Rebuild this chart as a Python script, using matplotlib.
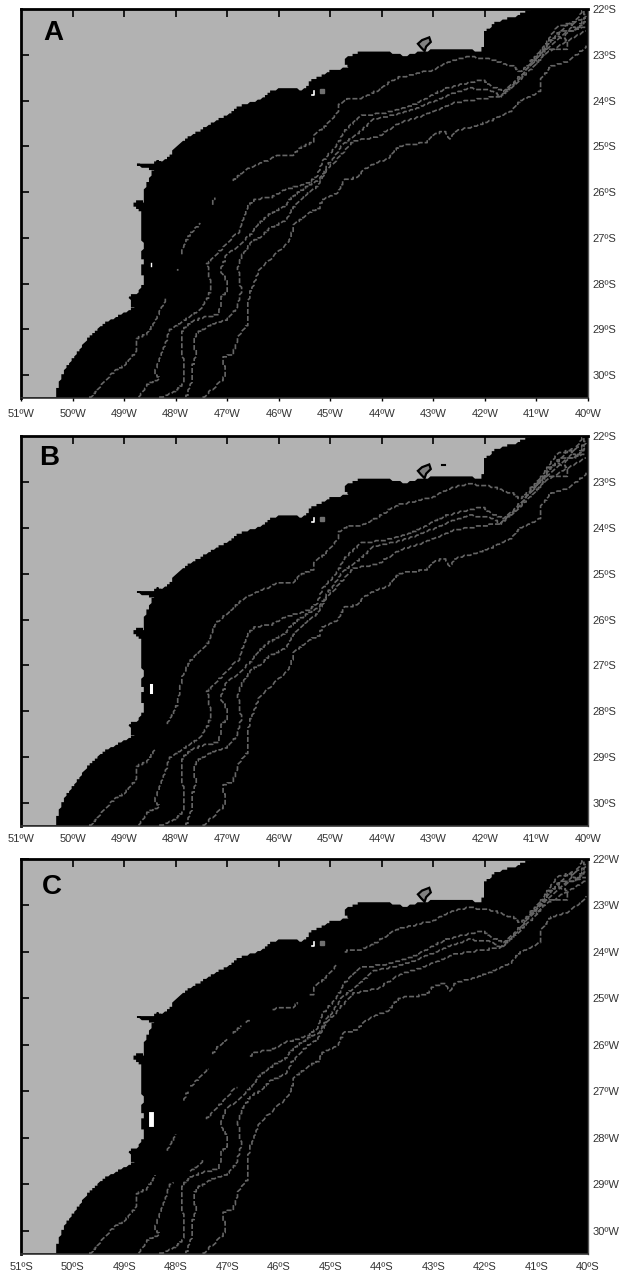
import numpy as np
import matplotlib
matplotlib.use("Agg")
import matplotlib.pyplot as plt

plt.rcParams['font.family'] = ['Liberation Sans', 'DejaVu Sans']

# degrees west / degrees south
coast_lon = [50.31, 50.25, 50.08, 49.95, 49.70, 49.37, 49.02, 48.77, 48.86, 48.88, 48.73, 48.60, 48.65, 48.58, 48.65,
             48.61, 48.66, 48.63, 48.79, 48.73, 48.59, 48.59, 48.47, 48.41, 48.73, 48.41, 48.34, 48.31, 48.05, 48.02,
             47.73, 47.41, 47.02, 46.76, 46.31, 46.18, 45.92, 45.60, 45.44, 45.41, 45.21, 44.95, 44.60, 44.73, 44.44,
             44.05, 43.53, 43.20, 42.68, 42.03, 42.00, 41.77, 41.38, 41.09, 40.93]
coast_lat = [30.50, 30.17, 29.80, 29.62, 29.22, 28.89, 28.68, 28.53, 28.46, 28.28, 28.24, 27.99, 27.62, 27.50, 27.40,
             27.19, 26.82, 26.46, 26.28, 26.20, 26.24, 25.95, 25.66, 25.51, 25.40, 25.40, 25.31, 25.40, 25.19, 25.05,
             24.82, 24.60, 24.35, 24.15, 23.97, 23.84, 23.73, 23.78, 23.77, 23.62, 23.51, 23.35, 23.30, 23.11, 22.97,
             22.93, 23.04, 22.93, 22.91, 22.93, 22.53, 22.31, 22.17, 22.02, 22.00]

# the small headland near 43W
head_lon = [43.30, 43.22, 43.08, 43.05, 43.14, 43.17, 43.24]
head_lat = [22.76, 22.68, 22.62, 22.72, 22.82, 22.92, 22.84]

c1_lon = [49.66, 49.47, 49.18, 48.99, 48.76, 48.76, 48.57, 48.37, 48.18, 47.99, 47.95, 47.86, 47.70, 47.37, 47.25,
          46.89, 46.63, 46.05, 45.73, 45.60, 45.41, 45.31, 45.31, 45.08, 44.86, 44.82, 44.66, 44.40, 44.11, 43.72,
          43.53, 43.01, 42.68, 42.32, 41.84, 41.45, 41.32, 41.19, 41.00, 40.80, 40.60, 40.28, 40.05]
c1_lat = [30.50, 30.26, 29.90, 29.79, 29.47, 29.21, 29.10, 28.78, 28.30, 27.94, 27.69, 27.21, 26.89, 26.52, 26.12,
          25.76, 25.51, 25.22, 25.22, 25.04, 24.94, 24.89, 24.75, 24.53, 24.27, 24.09, 23.95, 23.95, 23.80, 23.51,
          23.47, 23.33, 23.15, 23.04, 23.11, 23.26, 23.37, 23.26, 23.07, 22.71, 22.39, 22.28, 22.20]

c2_lon = [48.72, 48.54, 48.31, 48.41, 48.25, 48.12, 47.79, 47.54, 47.37, 47.31, 47.39, 47.15, 46.76, 46.60, 46.44,
          46.15, 45.86, 45.60, 45.41, 45.25, 45.15, 44.86, 44.73, 44.40, 44.01, 43.46, 43.14, 42.75, 42.36, 42.06,
          41.87, 41.64, 41.45, 41.25, 40.93, 40.73, 40.54, 40.28, 40.05]
c2_lat = [30.50, 30.19, 30.08, 29.97, 29.47, 29.03, 28.78, 28.59, 28.30, 28.09, 27.58, 27.29, 26.85, 26.31, 26.15,
          26.12, 25.94, 25.87, 25.78, 25.65, 25.33, 24.96, 24.67, 24.32, 24.29, 24.13, 23.95, 23.73, 23.62, 23.55,
          23.69, 23.80, 23.62, 23.40, 23.00, 22.71, 22.50, 22.50, 22.28]

c3_lon = [48.30, 47.99, 47.86, 47.85, 47.89, 47.86, 47.73, 47.47, 47.15, 47.12, 46.99, 47.01, 47.13, 47.02, 46.57,
          46.41, 46.18, 45.89, 45.73, 45.44, 45.21, 45.08, 44.79, 44.50, 44.18, 43.59, 43.14, 42.68, 42.29, 41.90,
          41.68, 41.38, 41.12, 40.86, 40.41, 40.05]
c3_lat = [30.50, 30.34, 30.19, 29.76, 29.25, 29.03, 28.85, 28.74, 28.67, 28.30, 28.16, 27.94, 27.72, 27.40, 26.96,
          26.71, 26.49, 26.31, 26.09, 25.87, 25.73, 25.47, 25.00, 24.75, 24.42, 24.27, 24.09, 23.87, 23.73, 23.77,
          23.91, 23.58, 23.22, 22.93, 22.50, 22.39]

c4_lon = [47.80, 47.70, 47.70, 47.60, 47.65, 47.60, 47.28, 46.99, 46.83, 46.73, 46.79, 46.70, 46.54, 46.31, 46.18,
          45.86, 45.73, 45.44, 45.25, 45.08, 44.73, 44.56, 44.05, 43.66, 43.14, 42.62, 42.16, 41.71, 41.38, 41.12,
          40.86, 40.41, 40.05]
c4_lat = [30.50, 30.19, 29.90, 29.54, 29.25, 29.10, 28.88, 28.78, 28.56, 28.16, 27.65, 27.36, 27.10, 26.96, 26.78,
          26.63, 26.34, 26.02, 25.87, 25.54, 25.11, 24.89, 24.78, 24.49, 24.31, 24.05, 23.98, 23.91, 23.62, 23.33,
          23.00, 22.71, 22.46]

c5_lon = [47.47, 47.08, 47.02, 47.10, 46.89, 46.79, 46.60, 46.60, 46.54, 46.37, 45.79, 45.70, 45.41, 45.21, 45.15,
          44.86, 44.73, 44.50, 44.31, 43.85, 43.72, 43.53, 43.14, 43.01, 42.78, 42.68, 42.58, 42.10, 41.84, 41.51,
          41.32, 40.93, 40.90, 40.73, 40.41, 40.02]
c5_lat = [30.50, 30.09, 29.98, 29.61, 29.54, 29.17, 28.88, 28.45, 28.16, 27.69, 27.07, 26.71, 26.45, 26.34, 26.16,
          26.02, 25.73, 25.69, 25.47, 25.25, 25.04, 24.96, 24.93, 24.75, 24.67, 24.86, 24.67, 24.53, 24.42, 24.24,
          24.02, 23.80, 23.51, 23.26, 23.15, 22.82]

# loops of the isobaths off Cabo Frio
loop_lon = [41.12, 40.86, 40.41, 40.38, 40.60, 40.77, 40.86, 41.00]
loop_lat = [23.15, 22.86, 22.86, 22.68, 22.60, 22.71, 23.00, 23.20]
loop2_lon = [40.60, 40.35, 40.20, 40.05, 40.10, 40.45]
loop2_lat = [22.55, 22.30, 22.45, 22.15, 22.05, 22.60]

# stretches of latitude where each isobath is visible, by panel
c1_keep = {
    'A': [(28.3, 30.5), (27.65, 27.75), (26.68, 27.4), (26.1, 26.3), (22, 25.76)],
    'B': [(28.82, 30.5), (22, 28.3)],
    'C': [(28.8, 30.5), (27.9, 28.3), (27.0, 27.2), (26.5, 26.9), (25.85, 26.2), (25.6, 25.76), (25.45, 25.52),
          (25.05, 25.25), (24.27, 24.95), (22, 24.0)],
}
c2_keep = {
    'A': [(22, 30.5)],
    'B': [(22, 30.5)],
    'C': [(28.95, 30.5), (28.45, 28.75), (26.9, 27.6), (22, 26.25)],
}

# white gaps in the bay near 27.5S
bay_lat = {'A': (27.55, 27.62), 'B': (27.43, 27.58), 'C': (27.48, 27.70)}
bay_width = {'A': 1.0, 'B': 2.2, 'C': 3.5}

labels_x = {'A': 'W', 'B': 'W', 'C': 'S'}
labels_y = {'A': 'S', 'B': 'S', 'C': 'W'}
letter_pos = {'A': (50.37, 22.52), 'B': (50.45, 22.48), 'C': (50.41, 22.60)}
panel_box = {'A': (21, 9, 588, 398), 'B': (21, 436, 588, 826), 'C': (21, 859, 588, 1254)}

xticks = list(range(51, 39, -1))
yticks = list(range(22, 31))

W, H = 619, 1271
GRAY = '#b2b2b2'
DASH = '#666666'


def blocky(lon, lat, step):
    # the source is a coarse raster, so snap outlines to its cells
    t = np.arange(len(lon))
    tt = np.linspace(0, len(lon) - 1, len(lon) * 12)
    x = np.interp(tt, t, lon)
    y = np.interp(tt, t, lat)
    return np.round(x / step) * step, np.round(y / step) * step


def keep_mask(lat, spans):
    m = np.zeros(len(lat), dtype=bool)
    for lo, hi in spans:
        m |= (lat >= lo) & (lat <= hi)
    return m


def draw_iso(ax, lon, lat, spans=None):
    x, y = blocky(lon, lat, 0.04)
    if spans is not None:
        y = np.where(keep_mask(y, spans), y, np.nan)
    ax.plot(x, y, color=DASH, lw=1.2, ls=(0, (3.0, 1.2)), zorder=3)


fig = plt.figure(figsize=(W / 100, H / 100), dpi=100)
for name in 'ABC':
    l, t, r, b = panel_box[name]
    ax = fig.add_axes([l / W, 1 - b / H, (r - l) / W, (b - t) / H], facecolor='black')
    ax.set_axisbelow(False)

    cx, cy = blocky(coast_lon, coast_lat, 0.05)
    land_x = list(cx) + [coast_lon[-1], 51.2, 51.2]
    land_y = list(cy) + [21.8, 21.8, coast_lat[0]]
    ax.fill(land_x, land_y, facecolor=GRAY, edgecolor='black', lw=1.3, zorder=2)
    ax.fill(head_lon, head_lat, facecolor='#808080', edgecolor='black', lw=1.6, zorder=2.5)

    draw_iso(ax, c1_lon, c1_lat, c1_keep[name])
    draw_iso(ax, c2_lon, c2_lat, c2_keep[name])
    draw_iso(ax, c3_lon, c3_lat)
    draw_iso(ax, c4_lon, c4_lat)
    draw_iso(ax, c5_lon, c5_lat)
    draw_iso(ax, loop_lon, loop_lat)
    draw_iso(ax, loop2_lon, loop2_lat)

    # small bay and island details
    ax.plot([45.35, 45.31, 45.31], [23.87, 23.87, 23.79], color='white', lw=1.2, zorder=4)
    ax.plot([45.17], [23.80], 's', color='#707070', ms=3, zorder=4)
    ax.plot([48.47, 48.47], bay_lat[name], color='white', lw=bay_width[name], zorder=4)
    if name == 'B':
        ax.plot([42.84, 42.78], [22.64, 22.64], color='black', lw=1.5, zorder=4)

    ax.set_xlim(51, 40)
    ax.set_ylim(30.5, 22)

    ax.set_xticks(xticks)
    ax.set_xticklabels([f"{v}\u00ba{labels_x[name]}" for v in xticks])
    ax.tick_params(axis='x', direction='out', length=2 if name == 'A' else 0, width=1, pad=6,
                   labelsize=8, labelcolor='#333333')
    ax.set_yticks(yticks)
    ax.set_yticklabels([f"{v}\u00ba{labels_y[name]}" for v in yticks])
    ax.tick_params(axis='y', direction='in', length=6, width=1.2, left=True, right=False,
                   labelleft=False, labelright=True, pad=3, labelsize=8, labelcolor='#333333')
    if name != 'C':
        ax.yaxis.get_major_ticks()[0].tick1line.set_visible(False)

    top = ax.secondary_xaxis('top')
    top.set_zorder(6)
    top.set_xticks(xticks[1:-1])
    top.tick_params(direction='in', length=6, width=1.2, labeltop=False, color='black')
    top.spines['top'].set_visible(False)

    for side, lw, col in [('left', 2, 'black'), ('top', 2, 'black'), ('bottom', 1.2, '#333333'), ('right', 1, '#555555')]:
        ax.spines[side].set_linewidth(lw)
        ax.spines[side].set_color(col)

    lx, ly = letter_pos[name]
    ax.text(lx, ly, name, fontsize=20, fontweight='bold', ha='center', va='center', color='black', zorder=5)

fig.savefig('out.png', dpi=100)
